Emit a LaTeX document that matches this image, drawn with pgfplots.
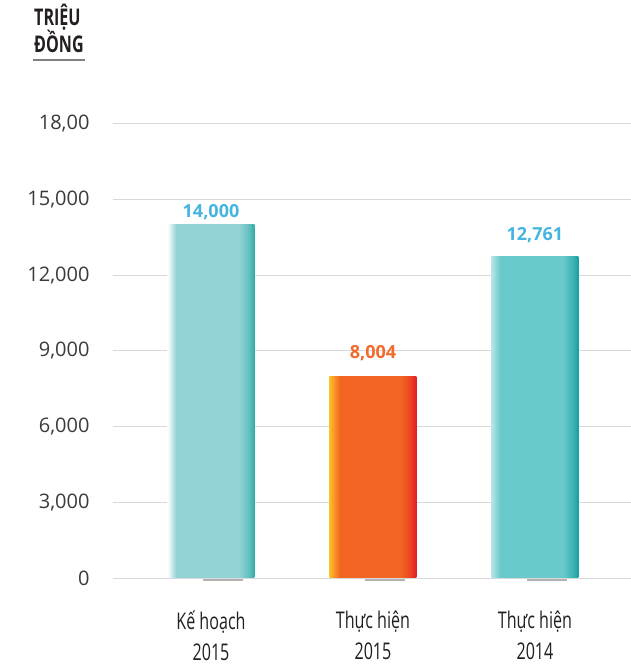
\documentclass[border=0pt]{standalone}
\usepackage{pgfplots}
\pgfplotsset{compat=1.18}
\usetikzlibrary{fadings}
\usepackage{fontspec}
\setmainfont{Open Sans}
\newfontfamily\condfont[FakeStretch=0.7]{Open Sans}
\definecolor{gridc}{HTML}{D9D9D9}
\definecolor{tickc}{HTML}{3A3A3A}
\definecolor{catc}{HTML}{231F20}
\definecolor{valblue}{HTML}{45B4DF}
\definecolor{valorange}{HTML}{F26A2B}
\pgfdeclarehorizontalshading{barA}{100bp}{color(0bp)=(white); color(25bp)=(white); color(30bp)=(rgb,255:red,147;green,211;blue,213); color(66bp)=(rgb,255:red,147;green,211;blue,213); color(72bp)=(rgb,255:red,96;green,190;blue,190); color(75bp)=(rgb,255:red,48;green,170;blue,168); color(100bp)=(rgb,255:red,48;green,170;blue,168)}
\pgfdeclarehorizontalshading{barB}{100bp}{color(0bp)=(rgb,255:red,252;green,190;blue,40); color(25bp)=(rgb,255:red,252;green,190;blue,40); color(31bp)=(rgb,255:red,242;green,101;blue,34); color(66bp)=(rgb,255:red,242;green,101;blue,34); color(71bp)=(rgb,255:red,236;green,70;blue,36); color(75bp)=(rgb,255:red,226;green,30;blue,38); color(100bp)=(rgb,255:red,226;green,30;blue,38)}
\pgfdeclarehorizontalshading{barC}{100bp}{color(0bp)=(rgb,255:red,185;green,228;blue,229); color(25bp)=(rgb,255:red,185;green,228;blue,229); color(30bp)=(rgb,255:red,105;green,202;blue,204); color(66bp)=(rgb,255:red,105;green,202;blue,204); color(72bp)=(rgb,255:red,60;green,178;blue,178); color(75bp)=(rgb,255:red,22;green,158;blue,158); color(100bp)=(rgb,255:red,22;green,158;blue,158)}
\tikzfading[name=fadelr, left color=transparent!100, middle color=transparent!0, right color=transparent!100]
\begin{document}
\begin{tikzpicture}
\useasboundingbox (0,0) rectangle (631bp,666bp);
% soft shadow under baseline
\shade[top color=black!16, bottom color=white, path fading=fadelr] (90bp,50bp) rectangle (631bp,88bp);
\begin{axis}[
  at={(113bp,88bp)}, anchor=south west,
  scale only axis, width=518bp, height=454bp,
  xmin=-0.605, xmax=2.593, ymin=0, ymax=18000,
  scaled y ticks=false,
  axis line style={draw=none},
  major tick length=0pt,
  ymajorgrids, grid style={gridc, line width=1bp},
  ytick={0,3000,6000,9000,12000,15000,18000},
  yticklabels={{0},{3,000},{6,000},{9,000},{12,000},{15,000},{18,00}},
  yticklabel style={font=\fontsize{20bp}{22bp}\selectfont, text=tickc, xshift=-20bp},
  xtick={0,1,2},
  xticklabels={{Kế hoạch\\2015},{Thực hiện\\2015},{Thực hiện\\2014}},
  xticklabel style={font=\condfont\fontsize{23bp}{31bp}\selectfont, text=catc, align=center, yshift=-29bp},
  ybar, bar width=0.537, bar shift=0pt,
  clip=false,
]
\addplot[draw=none, shading=barA] coordinates {(0,14000)};
\addplot[draw=none, shading=barB] coordinates {(1,8004)};
\addplot[draw=none, shading=barC] coordinates {(2,12761)};
\fill[black!30] (axis cs:-0.05,-30) rectangle (axis cs:0.2,-130);
\fill[black!30] (axis cs:0.95,-30) rectangle (axis cs:1.2,-130);
\fill[black!30] (axis cs:1.95,-30) rectangle (axis cs:2.2,-130);
\node[anchor=south, font=\bfseries\fontsize{18bp}{20bp}\selectfont, text=valblue, inner sep=0pt] at (axis cs:0,14000) [yshift=5bp] {14,000};
\node[anchor=south, font=\bfseries\fontsize{18bp}{20bp}\selectfont, text=valorange, inner sep=0pt] at (axis cs:1,8004) [yshift=15bp] {8,004};
\node[anchor=south, font=\bfseries\fontsize{18bp}{20bp}\selectfont, text=valblue, inner sep=0pt] at (axis cs:2,12761) [yshift=13bp] {12,761};
\end{axis}
\node[anchor=base west, inner sep=0pt, font=\condfont\bfseries\fontsize{23bp}{24bp}\selectfont, text=catc] at (34bp,640bp) {TRIỆU};
\node[anchor=base west, inner sep=0pt, font=\condfont\bfseries\fontsize{23bp}{24bp}\selectfont, text=catc] at (34bp,613bp) {ĐỒNG};
\draw[black!50, line width=2bp] (33bp,606bp) -- (85bp,606bp);
\end{tikzpicture}
\end{document}
